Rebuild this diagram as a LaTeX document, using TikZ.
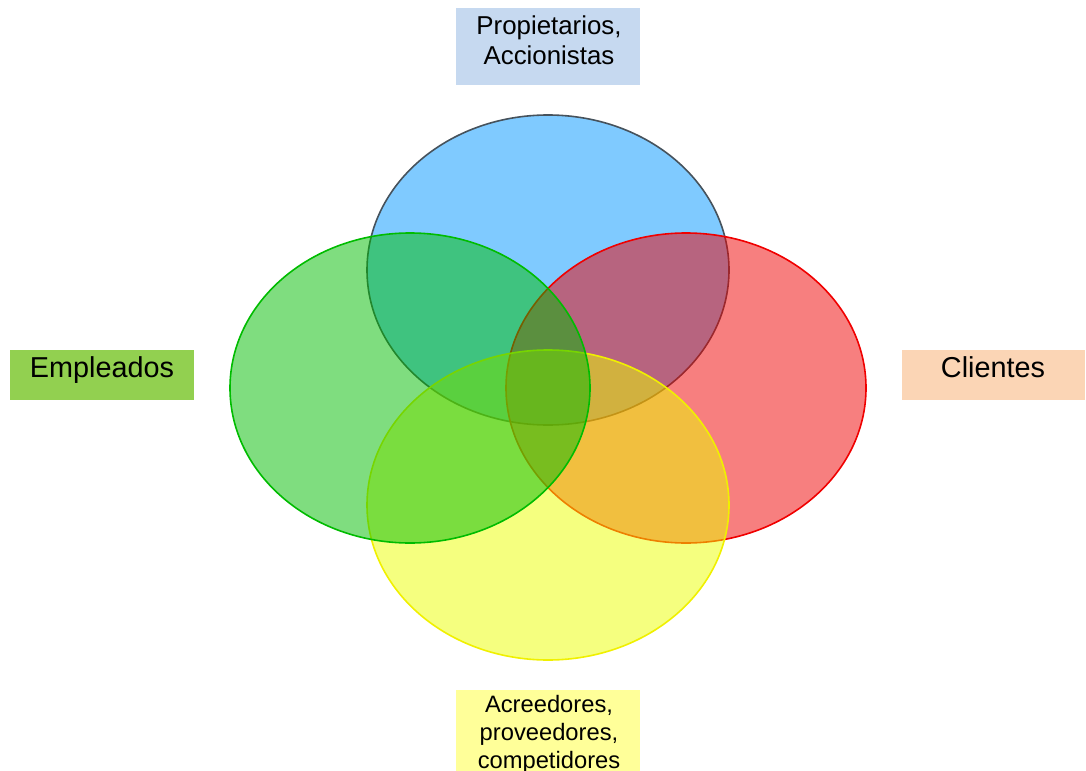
\documentclass[tikz,border=0pt]{standalone}
\usepackage{fontspec}
\setmainfont{Liberation Sans}
\usetikzlibrary{positioning}
\definecolor{ownBlue}{RGB}{0, 149, 255}
\definecolor{ownBlueEdge}{RGB}{70, 82, 92}
\definecolor{empGreen}{RGB}{0, 188, 0}
\definecolor{cliRed}{RGB}{240, 0, 0}
\definecolor{acrYellow}{RGB}{236, 255, 0}
\definecolor{acrYellowEdge}{RGB}{240, 240, 0}
\definecolor{tagBlue}{RGB}{198, 217, 240}
\definecolor{tagGreen}{RGB}{146, 208, 80}
\definecolor{tagPeach}{RGB}{251, 213, 181}
\definecolor{tagYellow}{RGB}{255, 255, 153}

\begin{document}
\begin{tikzpicture}[
  x=0.75pt, y=-0.75pt,
  set/.style={line width=1.2pt, fill opacity=0.5},
  tagbox/.style={rectangle, inner sep=0pt, anchor=north west},
  tagtext/.style={anchor=north, align=center, inner sep=0pt}
]
  \clip (0,0) rectangle (1086,771);

  % stakeholder sets
  \draw[set, draw=ownBlueEdge, fill=ownBlue] (548,270) ellipse [x radius=135.75pt, y radius=116.25pt];
  \draw[set, draw=cliRed, fill=cliRed] (686,388) ellipse [x radius=135pt, y radius=116.25pt];
  \draw[set, draw=acrYellowEdge, fill=acrYellow] (548,505) ellipse [x radius=135.75pt, y radius=116.25pt];
  \draw[set, draw=empGreen, fill=empGreen] (410,388) ellipse [x radius=135pt, y radius=116.25pt];

  % labels
  \node[tagbox, fill=tagBlue, minimum width=138pt, minimum height=57.75pt] (ownBox) at (456,8) {};
  \node[tagbox, fill=tagGreen, minimum width=138pt, minimum height=37.5pt] (empBox) at (10,350) {};
  \node[tagbox, fill=tagPeach, minimum width=137.25pt, minimum height=37.5pt] (cliBox) at (902,350) {};
  \node[tagbox, fill=tagYellow, minimum width=138pt, minimum height=70pt] (acrBox) at (456,690) {};

  \node[tagtext, font=\fontsize{19.4}{22.5}\selectfont] (ownText) at (549,15) {Propietarios,\\Accionistas};
  \node[tagtext, font=\fontsize{21.6}{25}\selectfont] (empText) at (102,356) {Empleados};
  \node[tagtext, font=\fontsize{21.6}{25}\selectfont] (cliText) at (993,356) {Clientes};
  \node[tagtext, font=\fontsize{17.8}{21}\selectfont] (acrText) at (549,695) {Acreedores,\\proveedores,\\competidores};
\end{tikzpicture}
\end{document}
